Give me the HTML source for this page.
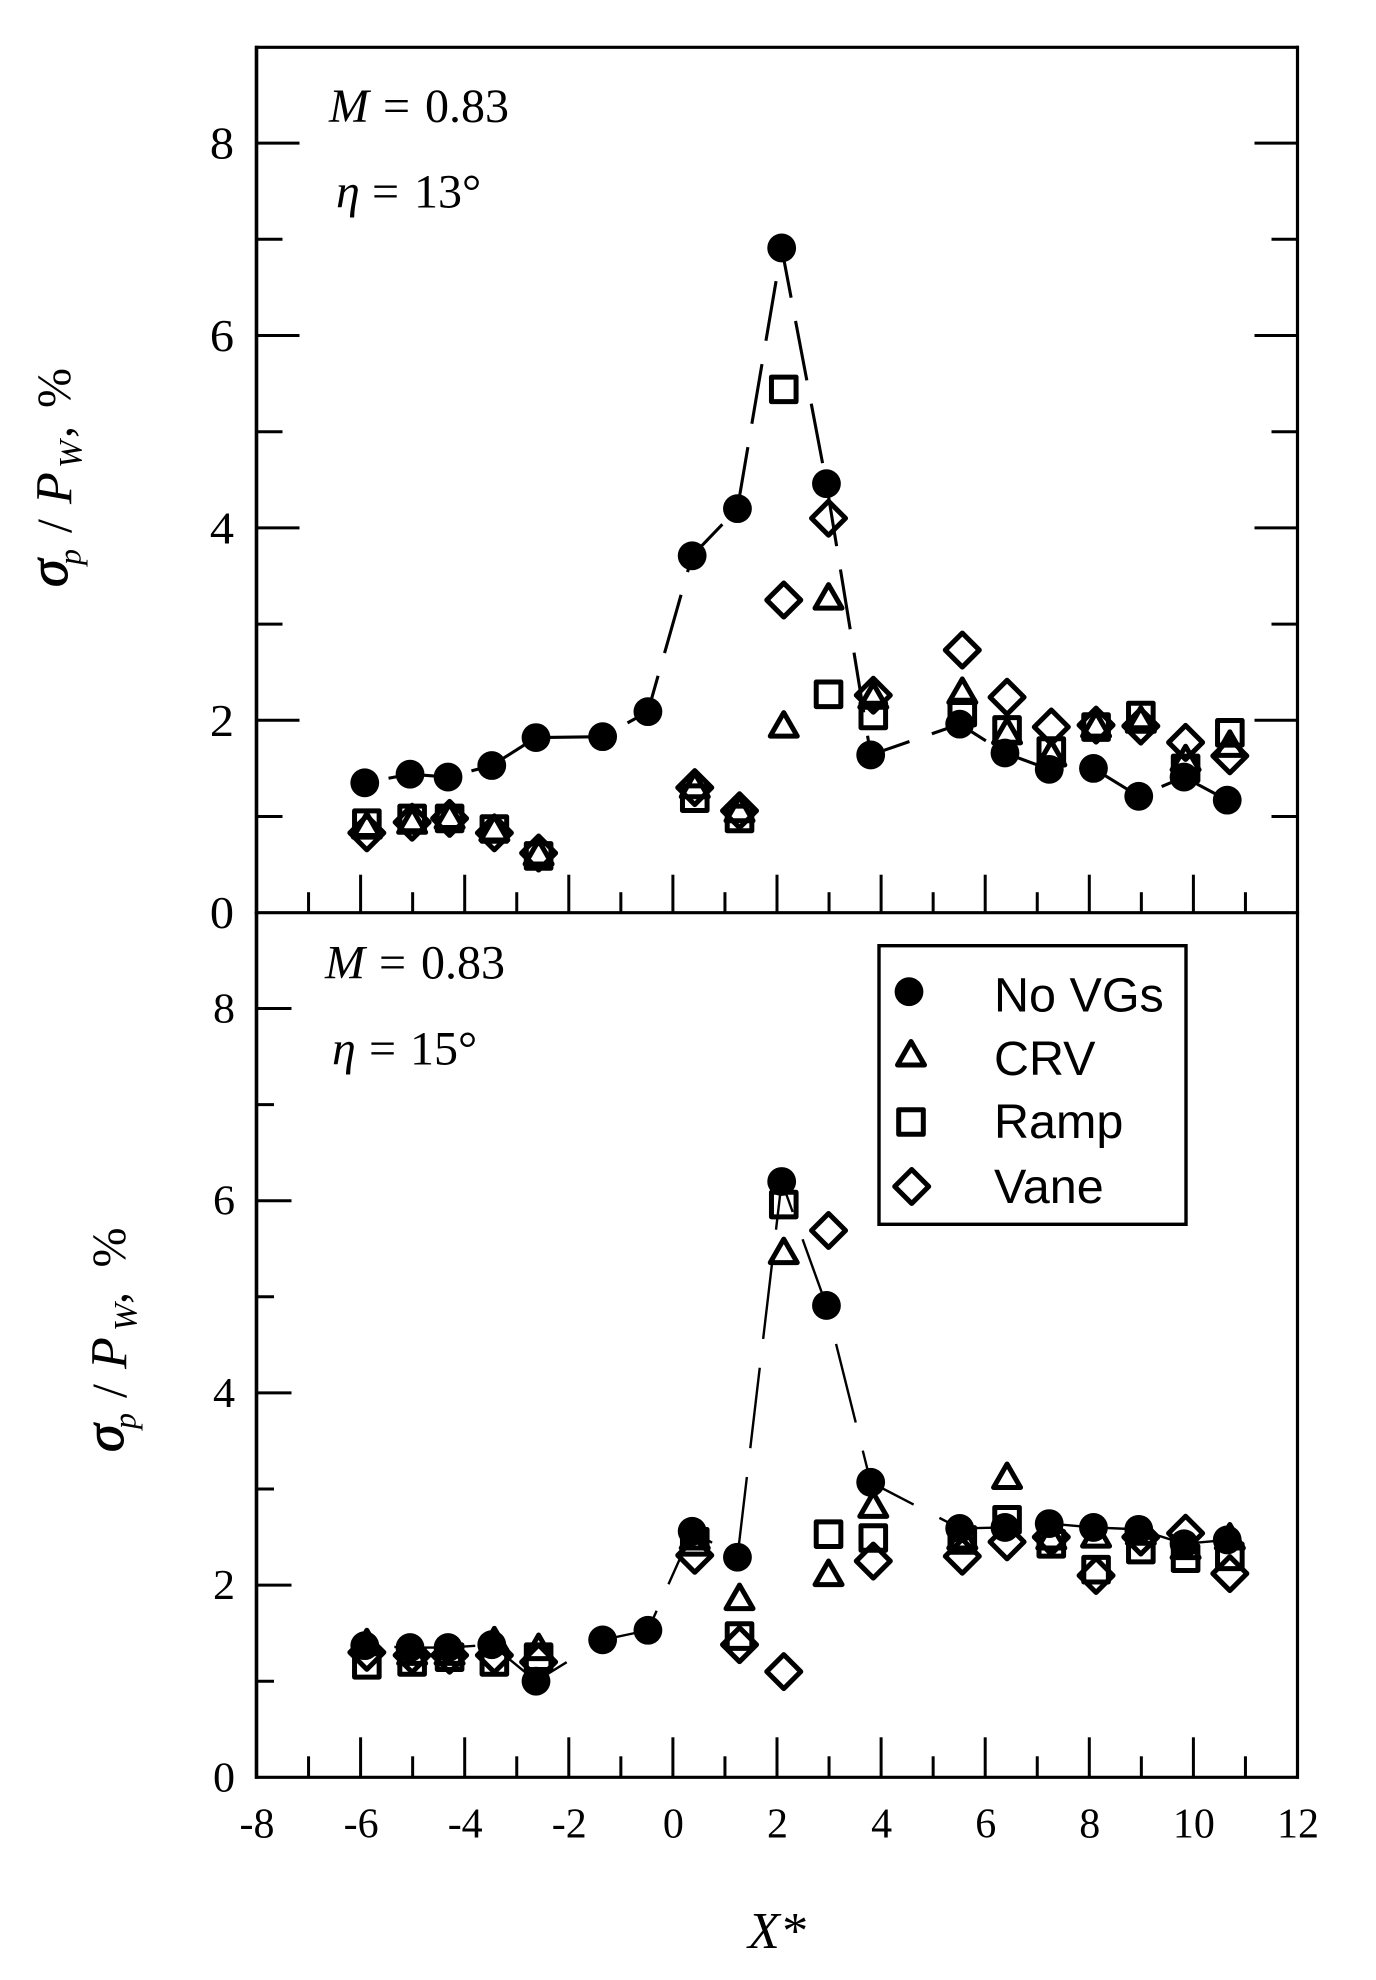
<!DOCTYPE html>
<html lang="en">
<head>
<meta charset="utf-8">
<title>Pressure fluctuation vs X* chart</title>
<style>
html,body{margin:0;padding:0;background:#fff;}
svg{display:block;}
text{font-family:"Liberation Serif",serif;fill:#000;}
.sans{font-family:"Liberation Sans",sans-serif;}
</style>
</head>
<body>
<svg id="chart" xmlns="http://www.w3.org/2000/svg" width="1376" height="1980" viewBox="0 0 1376 1980">
  <rect x="0" y="0" width="1376" height="1980" fill="#fff"/>

  <text font-size="48" y="122"><tspan x="329" font-style="italic">M</tspan><tspan x="383">=</tspan><tspan x="425">0.83</tspan></text>
  <text font-size="48" y="207.5"><tspan x="336" font-style="italic">η</tspan><tspan x="372">=</tspan><tspan x="414">13°</tspan></text>

  <text font-size="48" y="978.5"><tspan x="325" font-style="italic">M</tspan><tspan x="379">=</tspan><tspan x="421">0.83</tspan></text>
  <text font-size="48" y="1064.5"><tspan x="332" font-style="italic">η</tspan><tspan x="369">=</tspan><tspan x="410">15°</tspan></text>

  <text transform="rotate(-90)">
    <tspan x="-587" y="67" font-size="56" font-style="italic" stroke="#000" stroke-width="1">σ</tspan>
    <tspan x="-565" y="80.5" font-size="32" font-style="italic">p</tspan>
    <tspan x="-533" y="71" font-size="50">/</tspan>
    <tspan x="-504" y="71.5" font-size="52" font-style="italic">P</tspan>
    <tspan x="-468" y="81.5" font-size="33" font-style="italic">W</tspan>
    <tspan x="-438" y="71.5" font-size="48">,</tspan>
    <tspan x="-408" y="70" font-size="48">%</tspan>
  </text>

  <text transform="rotate(-90)">
    <tspan x="-1452" y="123" font-size="56" font-style="italic" stroke="#000" stroke-width="1">σ</tspan>
    <tspan x="-1429" y="135.5" font-size="32" font-style="italic">p</tspan>
    <tspan x="-1398" y="126" font-size="50">/</tspan>
    <tspan x="-1369" y="126.5" font-size="52" font-style="italic">P</tspan>
    <tspan x="-1331" y="136.5" font-size="33" font-style="italic">W</tspan>
    <tspan x="-1304" y="126.5" font-size="48">,</tspan>
    <tspan x="-1267.5" y="125" font-size="48">%</tspan>
  </text>

  <text x="748" y="1948" font-size="52" font-style="italic">X*</text>
</svg>
<script>
const xTickValues = [-8, -6, -4, -2, 0, 2, 4, 6, 8, 10, 12];
const xMinorValues = [-7, -5, -3, -1, 1, 3, 5, 7, 9, 11];
const yTickValues = [0, 2, 4, 6, 8];
const yMinorValues = [1, 3, 5, 7];

const noVgX = [-5.92, -5.05, -4.32, -3.48, -2.63, -1.35, -0.48, 0.37, 1.24, 2.09, 2.95, 3.80, 5.51, 6.38, 7.23, 8.08, 8.95, 9.82, 10.65];
const vgX = [-5.88, -5.01, -4.29, -3.43, -2.58, 0.42, 1.28, 2.13, 2.99, 3.85, 5.56, 6.42, 7.27, 8.13, 8.99, 9.85, 10.70];

const topNoVg = [1.35, 1.44, 1.41, 1.53, 1.82, 1.83, 2.09, 3.71, 4.20, 6.91, 4.46, 1.64, 1.96, 1.66, 1.49, 1.50, 1.21, 1.41, 1.17];
const topCrv = [0.90, 0.95, 1.00, 0.87, 0.62, 1.32, 1.07, 1.95, 3.28, 2.25, 2.30, 1.88, 1.65, 1.95, 2.00, 1.60, 1.75];
const topRamp = [0.93, 0.98, 0.98, 0.87, 0.59, 1.19, 0.98, 5.44, 2.27, 2.05, 2.08, 1.90, 1.68, 1.93, 2.05, 1.50, 1.87];
const topVane = [0.83, 0.94, 0.98, 0.83, 0.62, 1.30, 1.06, 3.25, 4.10, 2.26, 2.73, 2.24, 1.93, 1.95, 1.94, 1.77, 1.63];

const bottomNoVg = [1.37, 1.35, 1.35, 1.38, 1.00, 1.43, 1.53, 2.56, 2.29, 6.20, 4.91, 3.07, 2.59, 2.60, 2.64, 2.60, 2.58, 2.43, 2.47];
const bottomCrv = [1.40, 1.30, 1.30, 1.42, 1.35, 2.50, 1.87, 5.47, 2.12, 2.83, 2.50, 3.13, 2.50, 2.52, 2.55, 2.40, 2.50];
const bottomRamp = [1.17, 1.20, 1.25, 1.20, 1.25, 2.45, 1.47, 5.96, 2.53, 2.49, 2.47, 2.68, 2.43, 2.16, 2.37, 2.28, 2.30];
const bottomVane = [1.30, 1.27, 1.27, 1.27, 1.20, 2.31, 1.38, 1.10, 5.69, 2.25, 2.30, 2.45, 2.50, 2.10, 2.50, 2.54, 2.12];

const legendLabels = ["No VGs", "CRV", "Ramp", "Vane"];

const svg = document.getElementById('chart');
const NS = 'http://www.w3.org/2000/svg';

function xScale(v) { return 256.5 + (v + 8) * 52.05; }
function yTopScale(v) { return 912.7 - v * 96.2; }
function yBottomScale(v) { return 1777.3 - v * 96.1; }

function make(tag, parent, attrs) {
  const el = document.createElementNS(NS, tag);
  for (const k in attrs) el.setAttribute(k, attrs[k]);
  parent.appendChild(el);
  return el;
}

function line(parent, x1, y1, x2, y2, w) {
  return make('line', parent, { x1: x1, y1: y1, x2: x2, y2: y2, stroke: '#000', 'stroke-width': w });
}

function circleMark(parent, x, y) {
  return make('circle', parent, { cx: x, cy: y, r: 14.4, fill: '#000' });
}
function triangleMark(parent, x, y) {
  const d = 'M' + x + ' ' + (y - 12.5) + 'L' + (x - 13.5) + ' ' + (y + 11) + 'L' + (x + 13.5) + ' ' + (y + 11) + 'Z';
  return make('path', parent, { d: d, fill: 'none', stroke: '#000', 'stroke-width': 5, 'stroke-linejoin': 'round' });
}
function squareMark(parent, x, y) {
  return make('rect', parent, { x: x - 12.3, y: y - 12.3, width: 24.6, height: 24.6, fill: 'none', stroke: '#000', 'stroke-width': 5, 'stroke-linejoin': 'round' });
}
function diamondMark(parent, x, y) {
  const d = 'M' + x + ' ' + (y - 17) + 'L' + (x + 17) + ' ' + y + 'L' + x + ' ' + (y + 17) + 'L' + (x - 17) + ' ' + y + 'Z';
  return make('path', parent, { d: d, fill: 'none', stroke: '#000', 'stroke-width': 5, 'stroke-linejoin': 'round' });
}

function drawPanel(prefix, yScale, top, bottom, opts) {
  const g = make('g', svg, {});
  
  

  const frame = line(g, 256.5, top - 1.5, 256.5, bottom + 1.5, 3.6);
  
  
  const rightAxis = line(g, 1297.5, top - 1.5, 1297.5, bottom + 1.5, 3.2);
  
  
  const bottomAxis = line(g, 255, bottom, 1299, bottom, 3.2);
  
  
  if (opts.drawTop) {
    const topAxis = line(g, 255, top, 1299, top, 3.2);
    
    
  }

  xTickValues.slice(1, -1).forEach(function (v) {
    const t = line(g, xScale(v), bottom, xScale(v), bottom - opts.xMajor, 3);
    
    
  });
  xMinorValues.forEach(function (v) {
    const t = line(g, xScale(v), bottom, xScale(v), bottom - opts.xMinor, 3);
    
    
  });
  yTickValues.slice(1).forEach(function (v) {
    const t = line(g, 256.5, yScale(v), 256.5 + opts.yMajor, yScale(v), 3);
    
    
    if (opts.rightTicks) {
      const r = line(g, 1297.5, yScale(v), 1297.5 - opts.yMajor, yScale(v), 3);
      
      
    }
  });
  yMinorValues.forEach(function (v) {
    const t = line(g, 256.5, yScale(v), 256.5 + opts.yMinorLen, yScale(v), 3);
    
    
    if (opts.rightTicks) {
      const r = line(g, 1297.5, yScale(v), 1297.5 - opts.yMinorLen, yScale(v), 3);
      
      
    }
  });

  yTickValues.forEach(function (v) {
    const tx = make('text', g, {
      'font-size': opts.labelSize,
      'text-anchor': 'end',
      transform: 'translate(' + opts.labelX + ',' + (yScale(v) + opts.labelDy) + ') scale(1.05,1)'
    });
    
    
    tx.textContent = String(v);
  });

  const pts = opts.noVg.map(function (v, i) { return xScale(noVgX[i]) + ' ' + yScale(v); }).join(' L');
  const dashed = make('path', g, {
    d: 'M' + pts,
    fill: 'none',
    stroke: '#000',
    'stroke-width': opts.lineWidth,
    'stroke-dasharray': opts.dash,
    'stroke-dashoffset': opts.dashOffset
  });
  
  

  opts.noVg.forEach(function (v, i) {
    const m = circleMark(g, xScale(noVgX[i]), yScale(v));
    
    
  });
  opts.crv.forEach(function (v, i) {
    const m = triangleMark(g, xScale(vgX[i]), yScale(v));
    
    
  });
  opts.ramp.forEach(function (v, i) {
    const m = squareMark(g, xScale(vgX[i]), yScale(v));
    
    
  });
  opts.vane.forEach(function (v, i) {
    const m = diamondMark(g, xScale(vgX[i]), yScale(v));
    
    
  });
}

drawPanel('top', yTopScale, 47.3, 912.7, {
  drawTop: true, xMajor: 38, xMinor: 20.5, yMajor: 43, yMinorLen: 26, rightTicks: true,
  labelSize: 46, labelX: 234, labelDy: 15.5, lineWidth: 3.1, dash: '60.5 23.7', dashOffset: 60,
  noVg: topNoVg, crv: topCrv, ramp: topRamp, vane: topVane
});
drawPanel('bottom', yBottomScale, 912.7, 1777.3, {
  drawTop: false, xMajor: 40, xMinor: 21, yMajor: 35, yMinorLen: 17.5, rightTicks: false,
  labelSize: 42, labelX: 235, labelDy: 14, lineWidth: 2.4, dash: '81 29', dashOffset: 80.4,
  noVg: bottomNoVg, crv: bottomCrv, ramp: bottomRamp, vane: bottomVane
});

xTickValues.forEach(function (v) {
  const tx = make('text', svg, { x: xScale(v) + 0.5, y: 1837.7, 'font-size': 42, 'text-anchor': 'middle' });
  
  
  tx.textContent = String(v);
});

const legend = make('g', svg, {});


const legendBox = make('rect', legend, { x: 879, y: 945.7, width: 307, height: 278.6, fill: '#fff', stroke: '#000', 'stroke-width': 3.4 });



const legendBaselines = [1011.7, 1075, 1138, 1203];
const legendMarkers = [
  function (g) { return circleMark(g, 909, 991.7); },
  function (g) { return triangleMark(g, 911, 1054); },
  function (g) { return squareMark(g, 911, 1122); },
  function (g) { return diamondMark(g, 911.7, 1186.5); }
];
legendLabels.forEach(function (label, i) {
  const entry = make('g', legend, {});
  
  
  const marker = legendMarkers[i](entry);
  
  
  const tx = make('text', entry, { x: 994, y: legendBaselines[i], 'font-size': 48.5, 'class': 'sans' });
  
  
  tx.textContent = label;
});
</script>
</body>
</html>
